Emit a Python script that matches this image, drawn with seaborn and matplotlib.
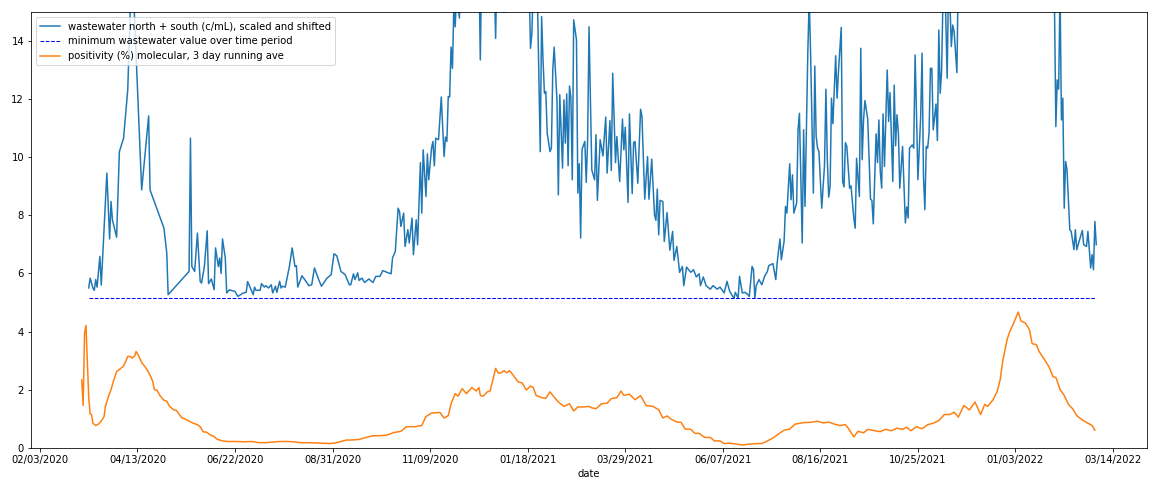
import pandas as pd
import matplotlib
matplotlib.use("Agg")
import matplotlib.pyplot as plt
import matplotlib.dates as mdates
import seaborn as sns

START = pd.Timestamp("2020-02-03")

# wastewater north + south, days since START, scaled and shifted values
ww_days = [35, 36, 38, 39, 40, 41, 43, 44, 48, 50, 51, 52, 55, 57, 60, 63, 66, 73, 78, 79,
           89, 91, 92, 107, 108, 109, 111, 113, 115, 116, 118, 120, 121, 123, 125, 126, 128, 129, 130, 131,
           133, 134, 136, 137, 140, 142, 144, 146, 148, 149, 151, 153, 154, 155, 158, 159, 161, 162, 164, 166,
           167, 169, 170, 172, 173, 174, 176, 179, 181, 183, 184, 185, 188, 190, 193, 195, 197, 200, 202, 206,
           209, 211, 213, 216, 219, 222, 223, 225, 226, 228, 229, 231, 233, 236, 239, 241, 244, 246, 249, 252,
           253, 255, 257, 258, 259, 261, 262, 264, 265, 267, 268, 270, 271, 273, 274, 275, 277, 278, 279, 281,
           282, 283, 284, 286, 288, 290, 291, 292, 293, 294, 295, 296, 297, 298, 299, 301, 302, 304, 306, 308,
           310, 312, 314, 315, 316, 317, 319, 321, 323, 325, 326, 327, 328, 330, 332, 333, 335, 337, 339, 341,
           343, 345, 347, 349, 351, 352, 353, 354, 356, 357, 359, 360, 361, 362, 363, 364, 366, 367, 368, 369,
           371, 372, 373, 375, 376, 377, 378, 379, 380, 381, 382, 383, 385, 386, 387, 388, 389, 391, 392, 393,
           394, 396, 398, 399, 400, 402, 404, 406, 407, 409, 410, 411, 413, 414, 416, 418, 419, 420, 422, 423,
           425, 426, 427, 429, 431, 432, 434, 436, 437, 439, 441, 442, 443, 444, 445, 447, 448, 450, 452, 454,
           455, 457, 459, 461, 462, 464, 467, 469, 471, 473, 474, 476, 478, 481, 483, 486, 488, 491, 493, 495,
           498, 499, 501, 502, 504, 506, 508, 509, 511, 512, 513, 514, 516, 518, 520, 522, 523, 526, 528, 529,
           531, 532, 534, 535, 536, 538, 539, 540, 541, 543, 544, 545, 547, 548, 549, 551, 552, 553, 555, 556,
           557, 558, 559, 561, 563, 564, 565, 566, 567, 568, 569, 571, 572, 573, 575, 576, 577, 578, 579, 581,
           582, 584, 585, 586, 588, 589, 590, 591, 592, 594, 596, 597, 598, 600, 601, 602, 603, 604, 605, 606,
           608, 609, 610, 612, 613, 614, 615, 616, 617, 619, 621, 622, 623, 624, 626, 627, 628, 629, 630, 632,
           633, 634, 635, 636, 637, 638, 639, 640, 641, 643, 644, 645, 646, 647, 648, 649, 651, 652, 653, 654,
           655, 656, 658, 659, 662, 665, 668, 671, 674, 677, 680, 683, 686, 689, 692, 695, 698, 701, 704, 707,
           710, 713, 716, 719, 722, 725, 728, 729, 730, 731, 732, 733, 734, 735, 736, 737, 739, 740, 742, 743,
           744, 746, 748, 749, 751, 752, 753, 754, 755, 756, 757, 758]
ww_vals = [5.50, 5.84, 5.50, 5.42, 5.79, 5.53, 6.59, 5.60, 9.46, 7.19, 8.48, 7.85, 7.25, 10.2, 10.66, 12.33, 17.0, 8.88, 11.43, 8.88,
           7.56, 6.70, 5.27, 6.07, 10.66, 6.24, 6.07, 7.39, 5.72, 5.67, 6.24, 7.47, 5.65, 5.81, 5.44, 6.88, 6.24, 6.53, 6.00, 7.19,
           6.53, 5.33, 5.44, 5.42, 5.38, 5.21, 5.27, 5.33, 5.35, 5.72, 5.50, 5.27, 5.53, 5.42, 5.42, 5.65, 5.53, 5.58, 5.50, 5.61,
           5.33, 5.56, 5.35, 5.73, 5.50, 5.56, 5.53, 6.24, 6.88, 6.24, 6.27, 5.53, 5.92, 5.79, 5.58, 5.61, 6.19, 5.79, 5.56, 5.84,
           5.96, 6.68, 6.61, 6.07, 5.96, 5.61, 5.61, 5.99, 5.79, 6.02, 5.76, 5.84, 5.69, 5.81, 5.69, 5.90, 5.90, 6.10, 6.04, 5.99,
           6.53, 6.76, 8.25, 8.14, 7.62, 8.08, 6.93, 7.51, 7.05, 7.91, 6.65, 7.85, 6.99, 9.82, 8.08, 10.26, 8.65, 10.12, 9.23, 10.32,
           10.55, 9.71, 10.66, 10.61, 12.08, 10.03, 10.70, 10.55, 12.10, 12.08, 13.80, 13.07, 15.2, 14.5, 15.8, 14.8, 17.5, 16.2, 19.0, 17.0,
           20.0, 18.0, 16.4, 16.5, 13.36, 16.8, 18.0, 21.0, 17.5, 19.6, 16.0, 14.1, 17.0, 19.0, 16.5, 15.0, 18.0, 22.0, 19.5, 24.0,
           20.0, 18.5, 21.0, 17.0, 16.0, 13.76, 14.28, 16.0, 17.5, 15.5, 10.2, 14.85, 13.36, 12.21, 12.27, 10.83, 10.2, 10.32, 13.01, 13.8,
           11.98, 8.71, 12.16, 9.63, 11.98, 10.49, 12.19, 9.71, 12.46, 12.04, 9.23, 14.74, 14.05, 8.77, 9.78, 7.22, 10.28, 10.55, 9.14, 10.58,
           14.5, 9.57, 9.23, 10.78, 8.52, 10.61, 10.05, 11.39, 9.46, 11.27, 9.55, 12.9, 9.82, 10.72, 9.17, 11.32, 10.26, 11.04, 8.45, 11.5,
           8.75, 10.51, 10.55, 9.11, 11.66, 11.41, 8.56, 10.03, 8.56, 9.94, 8.02, 7.83, 8.91, 7.33, 8.52, 8.48, 7.10, 8.10, 6.80, 7.45,
           6.45, 6.93, 6.04, 6.24, 5.58, 6.22, 6.04, 6.13, 5.88, 5.99, 5.58, 5.88, 5.58, 5.46, 5.58, 5.46, 5.53, 5.33, 5.73, 5.38,
           5.14, 5.35, 5.15, 5.90, 5.33, 5.35, 5.27, 5.21, 6.24, 6.15, 5.16, 5.58, 5.79, 5.61, 5.90, 6.07, 6.27, 6.34, 5.79, 6.36,
           7.19, 6.47, 7.11, 8.31, 8.08, 9.78, 8.54, 9.40, 8.08, 8.43, 10.95, 11.52, 7.05, 10.95, 8.31, 13.59, 15.5, 13.59, 8.77, 13.15,
           10.72, 10.32, 10.2, 8.25, 9.74, 12.35, 9.92, 8.63, 9.00, 12.04, 11.16, 13.5, 12.04, 12.96, 14.48, 9.17, 8.98, 10.51, 10.38, 8.94,
           9.02, 7.91, 7.56, 9.97, 8.65, 13.76, 9.92, 11.29, 11.96, 11.32, 8.56, 8.52, 7.71, 10.81, 9.82, 11.29, 9.52, 8.94, 11.5, 9.69,
           13.01, 11.24, 12.23, 9.17, 12.49, 10.4, 11.47, 10.86, 8.94, 10.38, 7.74, 8.29, 7.91, 10.32, 10.43, 10.32, 13.53, 11.52, 9.23, 11.41,
           13.59, 9.34, 8.20, 10.38, 10.32, 10.83, 13.07, 13.07, 10.95, 11.84, 10.58, 14.39, 12.21, 12.96, 15.5, 17.0, 12.73, 16.0, 15.3, 13.82,
           14.56, 14.33, 12.92, 16.5, 19.0, 22.0, 18.0, 25.0, 21.0, 28.0, 24.0, 30.0, 26.0, 32.0, 27.0, 29.0, 25.0, 31.0, 26.0, 28.0,
           23.0, 25.0, 21.0, 23.0, 19.0, 18.0, 15.3, 11.06, 12.67, 12.35, 15.8, 11.29, 12.04, 8.25, 9.86, 9.57, 7.51, 7.45, 6.82, 7.51,
           6.82, 7.16, 7.48, 6.99, 6.93, 7.45, 6.82, 6.19, 6.65, 6.13, 7.79, 6.99]

# positivity (%) molecular, 3 day running average
pos_days = [30, 31, 32, 33, 34, 35, 36, 37, 38, 40, 42, 44, 46, 47, 49, 51, 53, 55, 58, 60,
            62, 63, 65, 66, 68, 69, 71, 73, 75, 77, 79, 81, 82, 84, 86, 89, 91, 93, 96, 98,
            100, 102, 104, 107, 110, 113, 115, 117, 120, 122, 125, 127, 131, 135, 141, 146, 152, 157, 162, 167,
            172, 177, 182, 187, 193, 198, 203, 208, 212, 216, 220, 223, 229, 234, 239, 244, 249, 254, 259, 263,
            269, 274, 277, 281, 287, 290, 293, 295, 298, 300, 303, 306, 310, 313, 315, 316, 318, 321, 323, 325,
            327, 329, 331, 333, 335, 337, 340, 343, 346, 349, 352, 354, 356, 360, 363, 366, 369, 372, 376, 380,
            383, 386, 390, 394, 396, 399, 403, 407, 410, 414, 417, 419, 423, 427, 431, 435, 440, 444, 447, 450,
            453, 457, 460, 463, 467, 470, 473, 477, 481, 484, 488, 491, 495, 500, 504, 509, 515, 518, 522, 526,
            530, 534, 538, 542, 548, 553, 558, 562, 566, 570, 574, 578, 580, 584, 587, 591, 594, 599, 603, 607,
            611, 615, 619, 622, 625, 629, 633, 637, 641, 645, 649, 653, 656, 659, 663, 667, 671, 675, 678, 680,
            684, 687, 689, 691, 694, 696, 698, 700, 702, 704, 707, 710, 712, 715, 717, 721, 724, 727, 729, 732,
            735, 738, 741, 744, 748, 751, 755, 757]
pos_vals = [2.33, 1.45, 3.95, 4.21, 3.02, 1.74, 1.16, 1.14, 0.84, 0.76, 0.81, 0.91, 1.07, 1.42, 1.74, 2.00, 2.33, 2.62, 2.73, 2.81,
            3.02, 3.14, 3.14, 3.08, 3.16, 3.31, 3.14, 2.93, 2.81, 2.67, 2.50, 2.27, 2.00, 1.98, 1.80, 1.63, 1.60, 1.42, 1.30, 1.28,
            1.14, 1.02, 0.99, 0.91, 0.84, 0.79, 0.72, 0.55, 0.52, 0.44, 0.38, 0.29, 0.23, 0.21, 0.21, 0.20, 0.21, 0.17, 0.17, 0.19,
            0.21, 0.21, 0.20, 0.17, 0.17, 0.16, 0.15, 0.14, 0.16, 0.21, 0.26, 0.26, 0.28, 0.35, 0.41, 0.41, 0.43, 0.52, 0.56, 0.72,
            0.72, 0.76, 1.07, 1.19, 1.21, 1.02, 1.10, 1.51, 1.86, 1.77, 2.03, 1.86, 2.07, 1.95, 2.07, 1.80, 1.77, 1.92, 1.95, 2.33,
            2.73, 2.56, 2.58, 2.65, 2.58, 2.65, 2.47, 2.27, 2.23, 1.98, 2.12, 2.07, 1.80, 1.72, 1.70, 1.92, 1.74, 1.57, 1.42, 1.51,
            1.26, 1.40, 1.40, 1.42, 1.37, 1.34, 1.51, 1.53, 1.69, 1.72, 1.95, 1.80, 1.84, 1.65, 1.79, 1.45, 1.42, 1.30, 1.02, 1.09,
            0.98, 0.88, 0.87, 0.64, 0.63, 0.49, 0.49, 0.35, 0.35, 0.23, 0.23, 0.14, 0.15, 0.12, 0.09, 0.12, 0.14, 0.14, 0.23, 0.33,
            0.47, 0.60, 0.64, 0.81, 0.86, 0.87, 0.91, 0.85, 0.88, 0.81, 0.76, 0.79, 0.67, 0.37, 0.56, 0.51, 0.63, 0.58, 0.55, 0.63,
            0.58, 0.67, 0.63, 0.70, 0.58, 0.72, 0.65, 0.79, 0.84, 0.93, 1.14, 1.14, 1.22, 1.05, 1.45, 1.30, 1.57, 1.14, 1.49, 1.42,
            1.65, 1.95, 2.33, 3.02, 3.72, 4.01, 4.21, 4.44, 4.67, 4.36, 4.30, 4.07, 3.58, 3.55, 3.31, 3.02, 2.79, 2.44, 2.42, 2.00,
            1.80, 1.49, 1.34, 1.10, 0.95, 0.87, 0.76, 0.60]

tick_labels = ["02/03/2020", "04/13/2020", "06/22/2020", "08/31/2020", "11/09/2020", "01/18/2021",
               "03/29/2021", "06/07/2021", "08/16/2021", "10/25/2021", "01/03/2022", "03/14/2022"]

ww = pd.DataFrame({"date": START + pd.to_timedelta(ww_days, unit="D"), "value": ww_vals})
pos = pd.DataFrame({"date": START + pd.to_timedelta(pos_days, unit="D"), "value": pos_vals})

# minimum wastewater value held flat over the sampled period
ww_min = ww["value"].min()
min_line = pd.DataFrame({"date": [ww["date"].min(), ww["date"].max()], "value": [ww_min, ww_min]})

plt.rcParams["font.family"] = ["DejaVu Sans"]
plt.rcParams["font.size"] = 10

fig = plt.figure(figsize=(1171 / 72, 488 / 72), dpi=72)
ax = fig.add_axes([0.0265, 0.0828, 0.953, 0.892])

sns.lineplot(data=ww, x="date", y="value", ax=ax, color="#1f77b4", linewidth=1.5,
             label="wastewater north + south (c/mL), scaled and shifted")
sns.lineplot(data=min_line, x="date", y="value", ax=ax, color="blue", linewidth=1, linestyle="--",
             label="minimum wastewater value over time period")
sns.lineplot(data=pos, x="date", y="value", ax=ax, color="#ff7f0e", linewidth=1.5,
             label="positivity (%) molecular, 3 day running ave")

ax.set_ylim(0, 15)
ax.set_xticks(pd.to_datetime(tick_labels, format="%m/%d/%Y"))
ax.xaxis.set_major_formatter(mdates.DateFormatter("%m/%d/%Y"))
ax.set_xlabel("date")
ax.set_ylabel("")
ax.legend(loc="upper left")

fig.savefig("out.png", dpi=72)
